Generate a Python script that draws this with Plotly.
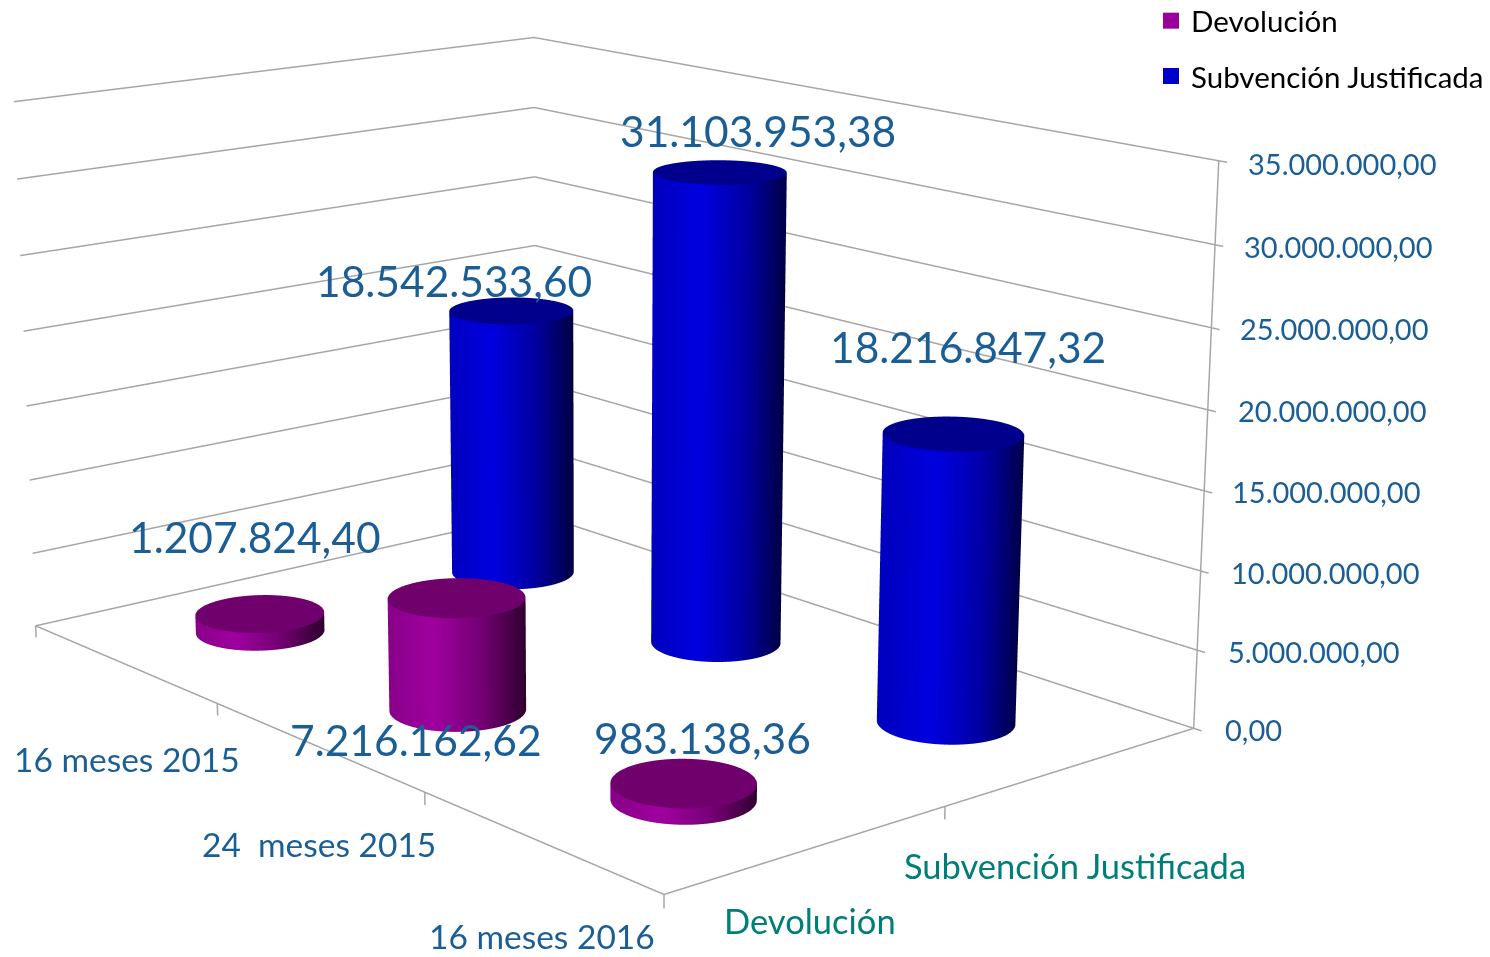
import numpy as np
import plotly.graph_objects as go

W, H = 1490, 957
categories = ["16 meses 2015", "24  meses 2015", "16 meses 2016"]
series = ["Devolución", "Subvención Justificada"]
devolucion = [1207824.40, 7216162.62, 983138.36]
subvencion = [18542533.60, 31103953.38, 18216847.32]
z_ticks = [0, 5e6, 10e6, 15e6, 20e6, 25e6, 30e6, 35e6]
z_labels = ["0,00", "5.000.000,00", "10.000.000,00", "15.000.000,00", "20.000.000,00", "25.000.000,00", "30.000.000,00", "35.000.000,00"]

# scene set-up: perspective matched to the reference, on a canvas larger than the window
XR, YR, ZR = [0, 3.03], [0, 2], [-0.8e6, 35.3e6]
ASPECT = dict(x=1.788, y=1.1948, z=1.00838)
EYE = dict(x=4.8875, y=-4.1028, z=1.6073)
CENTER = dict(x=0.0357, y=-0.0152, z=-0.1456)
FW, FH, LEFT, TOP = 2000, 3132, -400, -1067
RADIUS = 0.118
SX, SY = (XR[1] - XR[0]) / ASPECT["x"], (YR[1] - YR[0]) / ASPECT["y"]
RIGHT = (0.6443, 0.7648)  # camera-right in the floor plane

PURPLE, BLUE = (160, 0, 160), (0, 0, 224)
PURPLE_TOP, BLUE_TOP = "rgb(112,0,108)", "rgb(0,0,140)"
TXT, TEAL, LINE = "#1b5e96", "#007f78", "#a6a6a6"


def cylinder(cu, cv, h, base, top):
    n = 96
    t = np.linspace(0, 2 * np.pi, n, endpoint=False)
    x = cu + RADIUS * SX * np.cos(t)
    y = cv + RADIUS * SY * np.sin(t)
    across = np.cos(t) * RIGHT[0] + np.sin(t) * RIGHT[1]
    fac = np.interp(across, [-1, -0.3, 0.4, 1], [0.85, 1, 0.72, 0.3])
    side = [f"rgb({int(base[0]*q)},{int(base[1]*q)},{int(base[2]*q)})" for q in fac]
    X = list(x) * 3 + [cu]
    Y = list(y) * 3 + [cv]
    Z = [0] * n + [h] * n + [h] * n + [h]
    colors = side + side + [top] * n + [top]
    I, J, K = [], [], []
    for a in range(n):
        b = (a + 1) % n
        I += [a, b, 2 * n + a]
        J += [b, n + b, 2 * n + b]
        K += [n + a, n + a, 3 * n]
    return go.Mesh3d(x=X, y=Y, z=Z, i=I, j=J, k=K, vertexcolor=colors, flatshading=False,
                     lighting=dict(ambient=1, diffuse=0, specular=0, fresnel=0, roughness=1),
                     hoverinfo="skip", showlegend=False)


fig = go.Figure()
for i in range(len(categories)):
    fig.add_trace(cylinder(i + .5, .5, devolucion[i], PURPLE, PURPLE_TOP))
    fig.add_trace(cylinder(i + .5, 1.5, subvencion[i], BLUE, BLUE_TOP))

lx, ly, lz = [], [], []


def seg(a, b):
    lx.extend([a[0], b[0], None])
    ly.extend([a[1], b[1], None])
    lz.extend([a[2], b[2], None])


seg((0, 0, 0), (3, 0, 0))
seg((3, 0, 0), (3, 2, 0))
seg((3, 2, 0), (3, 2, z_ticks[-1]))
for i in range(4):
    seg((i, 0, 0), (i, 0, -.8e6))
seg((3, 1, 0), (3, 1, -.8e6))
for zv in z_ticks:
    seg((0, 0, zv), (0, 2, zv))
    seg((0, 2, zv), (XR[1], 2, zv))
fig.add_trace(go.Scatter3d(x=lx, y=ly, z=lz, mode="lines", line=dict(color=LINE, width=3),
                           hoverinfo="skip", showlegend=False))
fig.add_trace(go.Scatter3d(x=[None], y=[None], z=[None], mode="markers", name=series[0], legendgroup="a",
                           marker=dict(symbol="square", size=18, color="#990099")))
fig.add_trace(go.Scatter3d(x=[None], y=[None], z=[None], mode="markers", name=series[1], legendgroup="b",
                           marker=dict(symbol="square", size=18, color="#0000cc")))

ann = []


def add(text, pt, shift, size, color):
    ann.append(dict(x=pt[0], y=pt[1], z=pt[2], text=text, showarrow=False, xshift=shift[0], yshift=shift[1],
                    xanchor="center", yanchor="middle", font=dict(family="Lato", size=size, color=color)))


def fmt(v):
    return f"{v:,.2f}".replace(",", "X").replace(".", ",").replace("X", ".")


for i, s in enumerate([(-5, 77), (-41, -142), (19, 46)]):
    add(fmt(devolucion[i]), (i + .5, .5, devolucion[i]), s, 42.5, TXT)
for i, s in enumerate([(-57, 30), (38, 42), (15, 87)]):
    add(fmt(subvencion[i]), (i + .5, 1.5, subvencion[i]), s, 42.5, TXT)
for i, s in enumerate([(3, -96), (2, -98), (2, -95)]):
    add(categories[i], (i + .5, 0, 0), s, 33.5, TXT)
for i, s in enumerate([(1, -71), (2, -99)]):
    add(series[i], (3, i + .5, 0), s, 34.5, TEAL)
for zv, l, s in zip(z_ticks, z_labels, [(60, -1), (117, -1), (124, -2), (122, -1), (124, -1), (123, -1), (123, -2), (123, -3)]):
    add(l, (3, 2, zv), s, 29, TXT)

axis = dict(visible=False, showgrid=False, zeroline=False, showbackground=False, showspikes=False, autorange=False)
fig.update_layout(
    width=FW, height=FH, margin=dict(l=0, r=0, t=0, b=0), paper_bgcolor="white", showlegend=True,
    font=dict(family="Lato"),
    legend=dict(x=(1151 - LEFT) / FW, y=1 - (-5 - TOP) / FH, xanchor="left", yanchor="top",
                font=dict(size=29.5, color="black"), tracegroupgap=14, bgcolor="rgba(0,0,0,0)"),
    scene=dict(domain=dict(x=[0, 1], y=[0, 1]), aspectmode="manual", aspectratio=ASPECT,
               camera=dict(eye=EYE, center=CENTER, up=dict(x=0, y=0, z=1), projection=dict(type="perspective")),
               xaxis={**axis, "range": XR}, yaxis={**axis, "range": YR},
               zaxis={**axis, "range": ZR}, annotations=ann))
post = f"""var de=document.documentElement,b=document.body;de.style.overflow='hidden';de.style.width='{W}px';de.style.height='{H}px';
b.style.margin='0';b.style.width='{W}px';b.style.height='{H}px';b.style.overflow='hidden';b.style.position='relative';
var g=document.getElementById('{{plot_id}}');g.parentNode.style.position='absolute';g.parentNode.style.left='{LEFT}px';g.parentNode.style.top='{TOP}px';"""
fig.write_html("out.html", config=dict(displayModeBar=False), post_script=post)
